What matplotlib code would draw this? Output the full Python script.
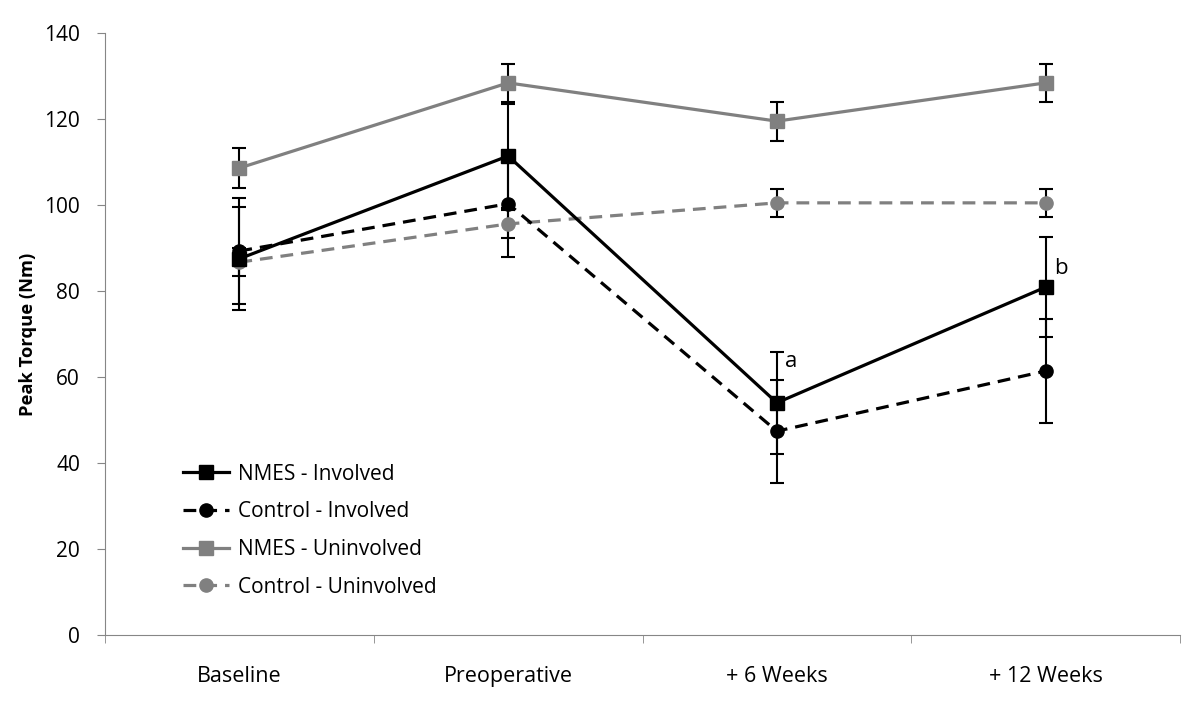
import matplotlib
matplotlib.use("Agg")
import matplotlib.pyplot as plt

categories = ["Baseline", "Preoperative", "+ 6 Weeks", "+ 12 Weeks"]
nmes_inv = [87.5, 111.4, 54.0, 80.9]
nmes_inv_err = [12.0, 12.0, 11.8, 11.7]
ctrl_inv = [89.3, 100.3, 47.4, 61.4]
ctrl_inv_err = [12.3, 12.3, 12.0, 12.0]
nmes_uninv = [108.6, 128.4, 119.5, 128.4]
nmes_uninv_err = [4.7, 4.5, 4.5, 4.5]
ctrl_uninv = [86.7, 95.6, 100.5, 100.5]
ctrl_uninv_err = [3.2, 3.3, 3.2, 3.3]
annotations = [(2, 63.5, "a"), (3, 85.3, "b")]

plt.rcParams['font.family'] = ['Open Sans', 'DejaVu Sans']

fig = plt.figure(figsize=(12, 7.07), dpi=100)
ax = fig.add_axes([105/1200, 1-635/707, 1075/1200, 602/707])

x = list(range(len(categories)))
gray = '#808080'
series = [
    (nmes_uninv, nmes_uninv_err, gray, 's', '-', "NMES - Uninvolved"),
    (ctrl_uninv, ctrl_uninv_err, gray, 'o', (0, (4, 2.5)), "Control - Uninvolved"),
    (ctrl_inv, ctrl_inv_err, 'black', 'o', (0, (4, 2.5)), "Control - Involved"),
    (nmes_inv, nmes_inv_err, 'black', 's', '-', "NMES - Involved"),
]
handles = {}
for vals, err, col, mk, ls, lab in series:
    ax.errorbar(x, vals, yerr=err, fmt='none', ecolor='black', elinewidth=1.5,
                capsize=5, capthick=1.5, zorder=2)
    h, = ax.plot(x, vals, color=col, marker=mk, linestyle=ls, linewidth=2.3,
                 markersize=9.5, label=lab, zorder=3)
    handles[lab] = h

order = ["NMES - Involved", "Control - Involved", "NMES - Uninvolved", "Control - Uninvolved"]
ax.legend([handles[k] for k in order], order, loc='lower left',
          bbox_to_anchor=(0.065, 0.048), frameon=False, fontsize=15,
          handlelength=2.2, labelspacing=0.8, handletextpad=0.45,
          borderaxespad=0.0)

for xi, yv, t in annotations:
    ax.text(xi + 0.03, yv, t, fontsize=16, va='center', ha='left')

ax.set_xlim(-0.5, 3.5)
ax.set_ylim(0, 140)
ax.set_yticks(range(0, 141, 20))
ax.set_xticks(x)
ax.set_xticklabels(categories, fontsize=15.5)
ax.set_xticks([-0.5, 0.5, 1.5, 2.5, 3.5], minor=True)
ax.tick_params(axis='x', which='major', length=0, pad=22)
ax.tick_params(axis='x', which='minor', length=6, color='#868686')
ax.tick_params(axis='y', labelsize=15, length=6, pad=12, color='#868686')
ax.set_ylabel("Peak Torque (Nm)", fontsize=13.2, fontweight='bold', labelpad=5)
for s in ['top', 'right']:
    ax.spines[s].set_visible(False)
for s in ['left', 'bottom']:
    ax.spines[s].set_color('#868686')

fig.savefig("out.png", dpi=100)
